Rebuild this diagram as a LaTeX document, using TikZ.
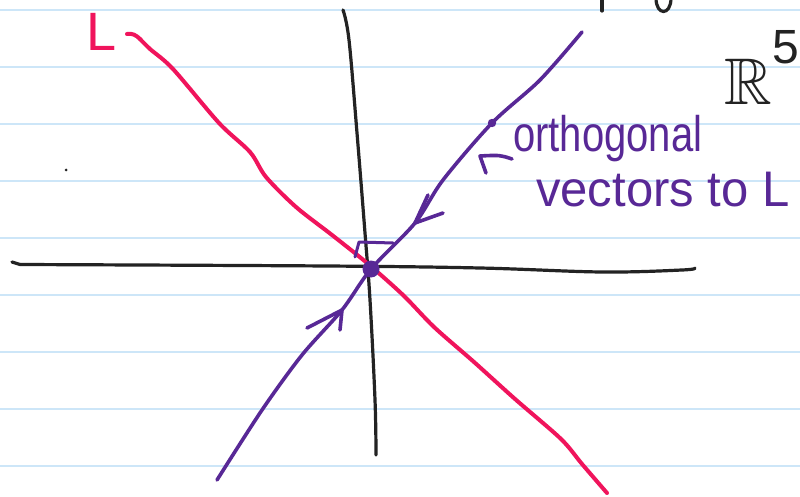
\documentclass[tikz,border=0pt]{standalone}
\usepackage{fontspec}
\usepackage{amssymb}
\setmainfont{Liberation Sans}
\definecolor{lpink}{RGB}{240,20,92}
\definecolor{lpurple}{RGB}{88,40,150}
\definecolor{axblack}{RGB}{35,35,35}
\definecolor{ruleblue}{RGB}{205,230,248}
\begin{document}
\begin{tikzpicture}[x=1pt,y=-1pt,
  pinkln/.style={draw=lpink, line width=4pt, line cap=round, line join=round},
  purpln/.style={draw=lpurple, line width=3.6pt, line cap=round, line join=round},
  axisln/.style={draw=axblack, line width=3.2pt, line cap=round, line join=round},
  ruled/.style={draw=ruleblue, line width=1.8pt},
  hand/.style={inner sep=0pt, anchor=base west}]
\useasboundingbox (0,0) rectangle (800,497);
\fill[white] (0,0) rectangle (800,497);
\foreach \y in {10,67,124,181,238,295,352,409,466} \draw[ruled] (0,\y) -- (800,\y);

% named points
\coordinate (O) at (371,269);
\coordinate (P) at (492,123);

% axes
\draw[axisln] plot[smooth, tension=0.6] coordinates {(343,10) (349,40) (357,133) (365,233) (370,300) (375,400) (376,455)};
\draw[axisln] (12,262) -- (20,264.5);
\draw[axisln] plot[smooth, tension=0.6] coordinates {(20,264.5) (327,266) (480,268) (602,272) (682,270) (695,268)};

% cut-off strokes at the top
\draw[axisln] (602,-2) -- (602,11);
\draw[axisln] (656,-2) .. controls (656,16) and (671,16) .. (671,-2);
\fill[axblack] (66,170) circle (1.5);

% line L
\draw[pinkln] (127,34) .. controls (132,33) and (136,35) .. (140,39);
\draw[pinkln] plot[smooth, tension=0.5] coordinates {(140,39) (150,49) (173,69) (219,123) (250,152) (266,177) (296,207) (332,235) (367,263) (403,295) (434,327) (474,362) (515,399) (561,439) (582,464) (607,493)};
\node[hand, text=lpink, font=\fontsize{54}{54}\selectfont] (Llab) at (86,51) {L};

% orthogonal line
\draw[purpln] plot[smooth, tension=0.5] coordinates {(582,32) (540,80) (P) (443,180) (415,223) (O) (342,310) (302,355) (262,410) (217,480)};
\draw[purpln] (428,195) -- (415,223) -- (443,213);
\draw[purpln] (307,328) -- (342,310) -- (340,330);
\draw[purpln, line width=3pt] (355,257) -- (359,242) -- (393,243);
\fill[lpurple] (O) circle (8.5);
\fill[lpurple] (P) circle (4.2);

% label
\draw[purpln] (512,159) .. controls (500,155) .. (480,156) -- (486,173);
\node[hand, text=lpurple, font=\fontsize{50}{50}\selectfont] (t1) at (513,152) {\scalebox{0.8}[1]{orthogonal}};
\node[hand, text=lpurple, font=\fontsize{50}{50}\selectfont] (t2) at (536,207) {\scalebox{0.98}[1]{vectors to L}};

% R^5
\node[hand, text=axblack, font=\fontsize{66}{66}\selectfont] (R) at (724,105) {$\mathbb{R}$};
\node[hand, text=axblack, font=\fontsize{48}{48}\selectfont] (five) at (772,64) {5};
\end{tikzpicture}
\end{document}
